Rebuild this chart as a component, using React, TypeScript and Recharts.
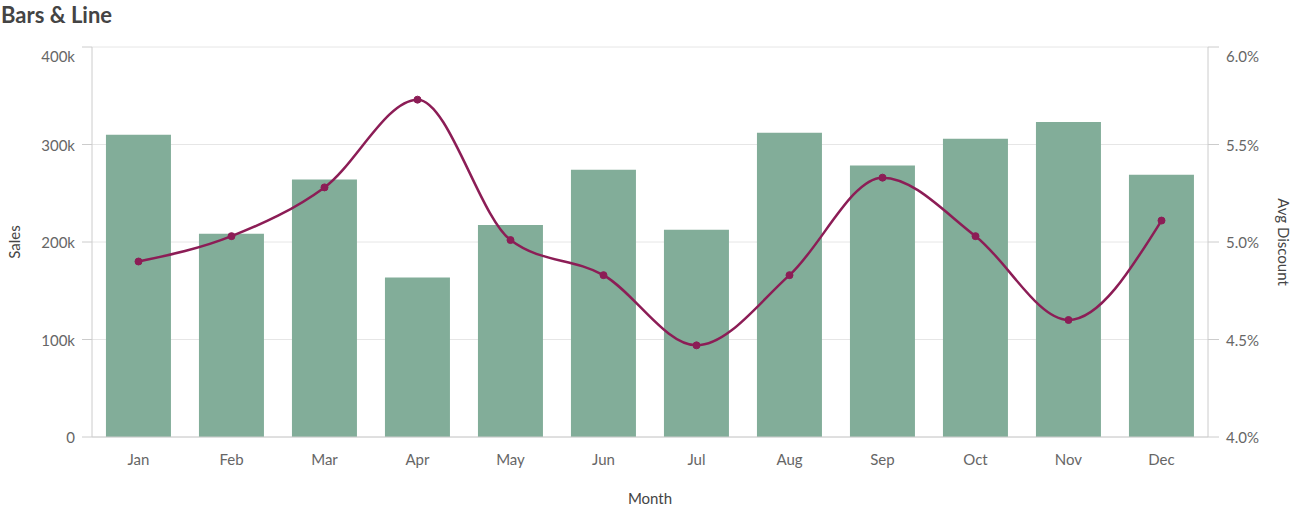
import React from 'react';
import { ComposedChart, Bar, Line, XAxis, YAxis, CartesianGrid, Label } from 'recharts';

const months = ['Jan', 'Feb', 'Mar', 'Apr', 'May', 'Jun', 'Jul', 'Aug', 'Sep', 'Oct', 'Nov', 'Dec'];
const sales = [310000, 208500, 264000, 163500, 217500, 274000, 212500, 312000, 278500, 306000, 323000, 269000];
const avgDiscount = [4.9, 5.03, 5.28, 5.73, 5.01, 4.83, 4.47, 4.83, 5.33, 5.03, 4.6, 5.11];
const salesTicks = [0, 100000, 200000, 300000, 400000];
const discountTicks = [4, 4.5, 5, 5.5, 6];

const data = months.map((m, i) => ({ month: m, sales: sales[i], discount: avgDiscount[i] }));

const FONT = 'Lato, "Open Sans", sans-serif';
const TICK_COLOR = '#666';
const AXIS_COLOR = '#cccccc';
const BAR_COLOR = '#82ad99';
const LINE_COLOR = '#8c1d56';

const fmtSales = (v: number) => (v === 0 ? '0' : `${Math.round(v / 1000)}k`);
const fmtPct = (v: number) => `${v.toFixed(1)}%`;

const makeTick = (fmt: (v: number) => string, maxVal: number, anchor: 'start' | 'end') => (props: any) => {
  const { x, y, payload } = props;
  const shift = payload.value === maxVal ? 9 : 0;
  return (
    <text x={x} y={y + shift} textAnchor={anchor} dominantBaseline="central" fill={TICK_COLOR}
      fontSize={15} fontFamily={FONT}>{fmt(payload.value)}</text>
  );
};

const LeftTick = makeTick(fmtSales, 400000, 'end');
const RightTick = makeTick(fmtPct, 6, 'start');

const SalesLabel = (props: any) => {
  const vb = props.viewBox;
  const cx = vb.x + 14;
  const cy = vb.y + vb.height / 2;
  return (
    <text x={cx} y={cy} transform={`rotate(-90 ${cx} ${cy})`} textAnchor="middle" dominantBaseline="central"
      fill="#444" fontSize={15} fontFamily={FONT}>Sales</text>
  );
};

const DiscLabel = (props: any) => {
  const vb = props.viewBox;
  const cx = vb.x + 76;
  const cy = vb.y + vb.height / 2;
  return (
    <text x={cx} y={cy} transform={`rotate(90 ${cx} ${cy})`} textAnchor="middle" dominantBaseline="central"
      fill="#444" fontSize={15} fontFamily={FONT}>Avg Discount</text>
  );
};

const MonthLabel = (props: any) => {
  const vb = props.viewBox;
  const cx = vb.x + vb.width / 2;
  const cy = vb.y + 61;
  return (
    <text x={cx} y={cy} textAnchor="middle" dominantBaseline="central" fill="#444" fontSize={15} fontFamily={FONT}>Month</text>
  );
};

export default function App() {
  return (
    <div style={{ position: 'absolute', left: 0, top: 0, width: 1302, height: 518, background: '#fff', fontFamily: FONT }}>
      <div style={{ position: 'absolute', left: 1, top: 0, fontSize: 22, fontWeight: 700, color: '#444', lineHeight: '30px' }}>
        Bars &amp; Line
      </div>
      <ComposedChart width={1302} height={518} data={data} margin={{ top: 47, right: 0, bottom: 21, left: 0 }}
        barCategoryGap="15%">
        <CartesianGrid vertical={false} stroke="#e6e6e6" yAxisId="left" />
        <XAxis dataKey="month" height={60} tickLine={false} tickSize={8} tickMargin={9}
          axisLine={{ stroke: AXIS_COLOR }} tick={{ fill: TICK_COLOR, fontSize: 15, fontFamily: FONT }}>
          <Label content={MonthLabel} />
        </XAxis>
        <YAxis yAxisId="left" orientation="left" width={92} domain={[0, 400000]} ticks={salesTicks}
          tickFormatter={fmtSales} tickSize={10} tickMargin={7} axisLine={{ stroke: AXIS_COLOR }}
          tickLine={{ stroke: AXIS_COLOR }} tick={LeftTick}>
          <Label content={SalesLabel} />
        </YAxis>
        <YAxis yAxisId="right" orientation="right" width={94} domain={[4, 6]} ticks={discountTicks}
          tickFormatter={fmtPct} tickSize={11} tickMargin={7} axisLine={{ stroke: AXIS_COLOR }}
          tickLine={{ stroke: AXIS_COLOR }} tick={RightTick}>
          <Label content={DiscLabel} />
        </YAxis>
        <Bar yAxisId="left" dataKey="sales" fill={BAR_COLOR} isAnimationActive={false} />
        <Line yAxisId="right" dataKey="discount" type="monotone" stroke={LINE_COLOR} strokeWidth={2.5}
          dot={{ r: 3.5, fill: LINE_COLOR, stroke: LINE_COLOR, strokeWidth: 1 }} activeDot={false}
          isAnimationActive={false} />
      </ComposedChart>
    </div>
  );
}
